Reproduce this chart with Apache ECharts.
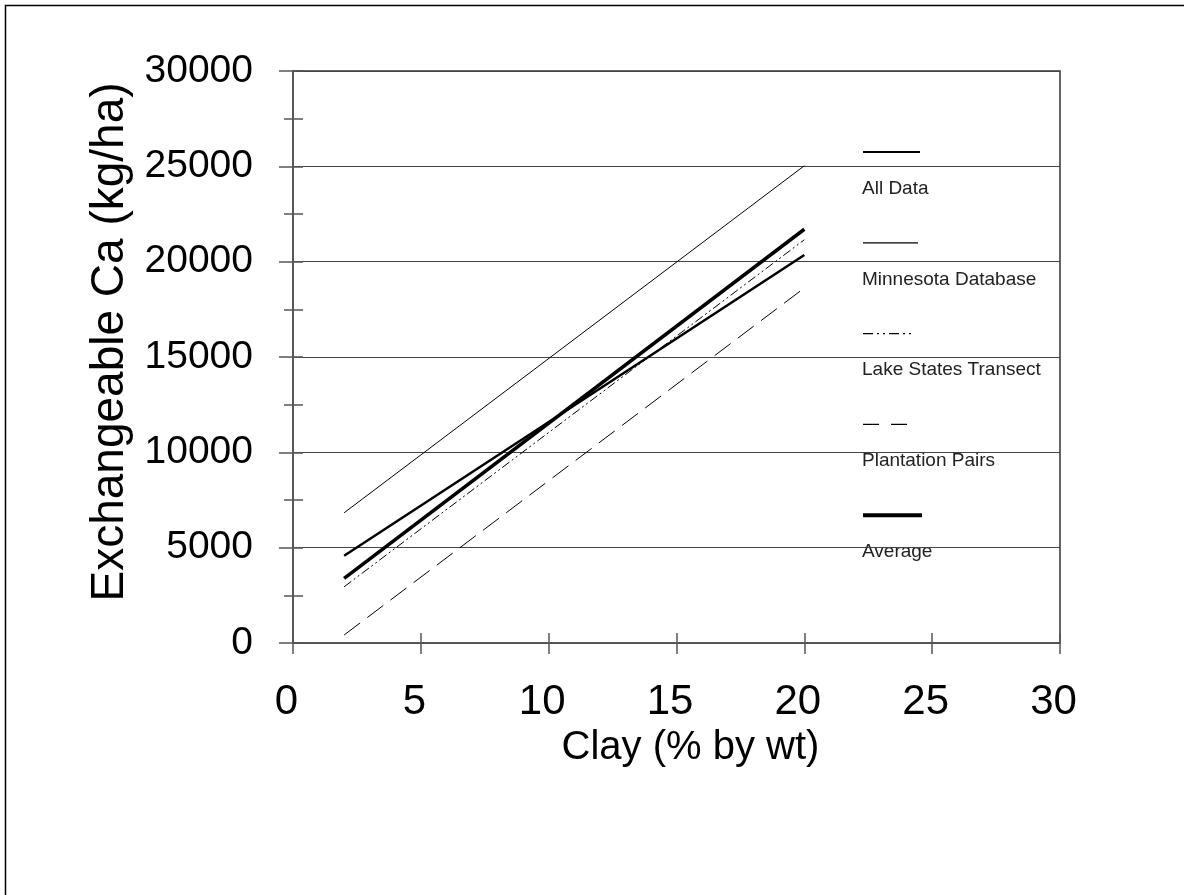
<!DOCTYPE html>
<html>
<head>
<meta charset="utf-8">
<script src="https://cdn.jsdelivr.net/npm/echarts@6/dist/echarts.min.js"></script>
<style>
  html, body { margin: 0; padding: 0; background: #fff; }
  #caChart { width: 1184px; height: 895px; }
</style>
</head>
<body>
<div id="caChart"></div>
<script>
// clay % (start and end of each regression line)
var clayPoints = [2, 20];
// exchangeable Ca, kg/ha
var allData = [4580, 20350];
var minnesotaDb = [6830, 25030];
var lakeStates = [2950, 21150];
var plantationPairs = [420, 18620];
var averageCa = [3390, 21700];

var seriesNames = ['All Data', 'Minnesota Database', 'Lake States Transect', 'Plantation Pairs', 'Average'];
var seriesValues = [allData, minnesotaDb, lakeStates, plantationPairs, averageCa];
var lineStyles = [
    { width: 2.5, type: 'solid' },
    { width: 1, type: 'solid' },
    { width: 1, type: [9, 3, 2, 3, 2, 3] },
    { width: 1, type: [20, 9] },
    { width: 3.5, type: 'solid' }
];
var legendDash = [null, null, [10, 4, 2, 4, 2, 4], [16, 12], null];
var legendWidth = [2, 1.3, 1.3, 1.3, 4];
var legendLen = [57, 55, 52, 49, 59];

var FONT = 'Liberation Sans, Arial, sans-serif';
var gridColor = '#444';

function pairs(vals) {
    return clayPoints.map(function (x, i) { return [x, vals[i]]; });
}

var series = seriesNames.map(function (name, i) {
    return {
        name: name,
        type: 'line',
        data: pairs(seriesValues[i]),
        symbol: 'none',
        silent: true,
        lineStyle: { color: '#000', width: lineStyles[i].width, type: lineStyles[i].type },
        z: 3
    };
});

// legend drawn by hand: sample line above its label
var legendGraphics = [];
seriesNames.forEach(function (name, i) {
    var y = 152 + i * 90.8;
    legendGraphics.push({
        type: 'line',
        shape: { x1: 863, y1: y, x2: 863 + legendLen[i], y2: y },
        style: { stroke: '#000', lineWidth: legendWidth[i], lineDash: legendDash[i] }
    });
    legendGraphics.push({
        type: 'text',
        left: 862,
        top: y + 27,
        style: { text: name, font: '19px ' + FONT, fill: '#222' }
    });
});
// outer frame
legendGraphics.push({
    type: 'rect',
    shape: { x: 5.5, y: 5.5, width: 1200, height: 920 },
    style: { fill: 'none', stroke: '#000', lineWidth: 1.5 },
    silent: true
});

var myChart = echarts.init(document.getElementById('caChart'));
var option = {
    backgroundColor: '#fff',
    animation: false,
    grid: {
        left: 293,
        right: 124,
        top: 71,
        bottom: 252,
        show: true,
        borderColor: '#333',
        borderWidth: 1.5
    },
    xAxis: [{
        type: 'value',
        position: 'bottom',
        min: 0,
        max: 30,
        interval: 5,
        name: 'Clay (% by wt)',
        nameLocation: 'middle',
        nameGap: 77,
        nameTextStyle: { fontFamily: FONT, fontSize: 40, color: '#000', padding: [0, 0, 0, 28] },
        axisLine: { onZero: false, lineStyle: { color: '#555', width: 1.5 } },
        axisTick: { show: true, length: 11, lineStyle: { color: '#555', width: 1.5 } },
        axisLabel: { fontFamily: FONT, fontSize: 42, color: '#000', margin: 38, padding: [0, 13, 0, 0] },
        splitLine: { show: false }
    }, {
        type: 'value',
        position: 'bottom',
        min: 0,
        max: 30,
        interval: 5,
        axisLine: { show: false, onZero: false },
        axisTick: { show: true, inside: true, length: 10, lineStyle: { color: '#555', width: 1.5 } },
        axisLabel: { show: false },
        splitLine: { show: false }
    }],
    yAxis: [{
        type: 'value',
        position: 'left',
        min: 0,
        max: 30000,
        interval: 5000,
        name: 'Exchangeable Ca (kg/ha)',
        nameLocation: 'middle',
        nameGap: 150,
        nameTextStyle: { fontFamily: FONT, fontSize: 46, color: '#000', padding: [0, 0, 0, 30] },
        axisLine: { onZero: false, lineStyle: { color: '#555', width: 1.5 } },
        axisTick: { show: true, length: 14, lineStyle: { color: '#555', width: 1.5 } },
        minorTick: { show: true, splitNumber: 2, length: 9, lineStyle: { color: '#555', width: 1.5 } },
        axisLabel: {
            fontFamily: FONT, fontSize: 39, color: '#000', margin: 40,
            formatter: function (v) { return String(v); }
        },
        splitLine: { show: true, lineStyle: { color: gridColor, width: 1.2 } }
    }, {
        type: 'value',
        position: 'left',
        min: 0,
        max: 30000,
        interval: 2500,
        axisLine: { show: false, onZero: false },
        axisTick: { show: true, inside: true, length: 10, lineStyle: { color: '#555', width: 1.5 } },
        axisLabel: { show: false },
        splitLine: { show: false }
    }],
    graphic: legendGraphics,
    series: series
};

myChart.setOption(option);
</script>
</body>
</html>
